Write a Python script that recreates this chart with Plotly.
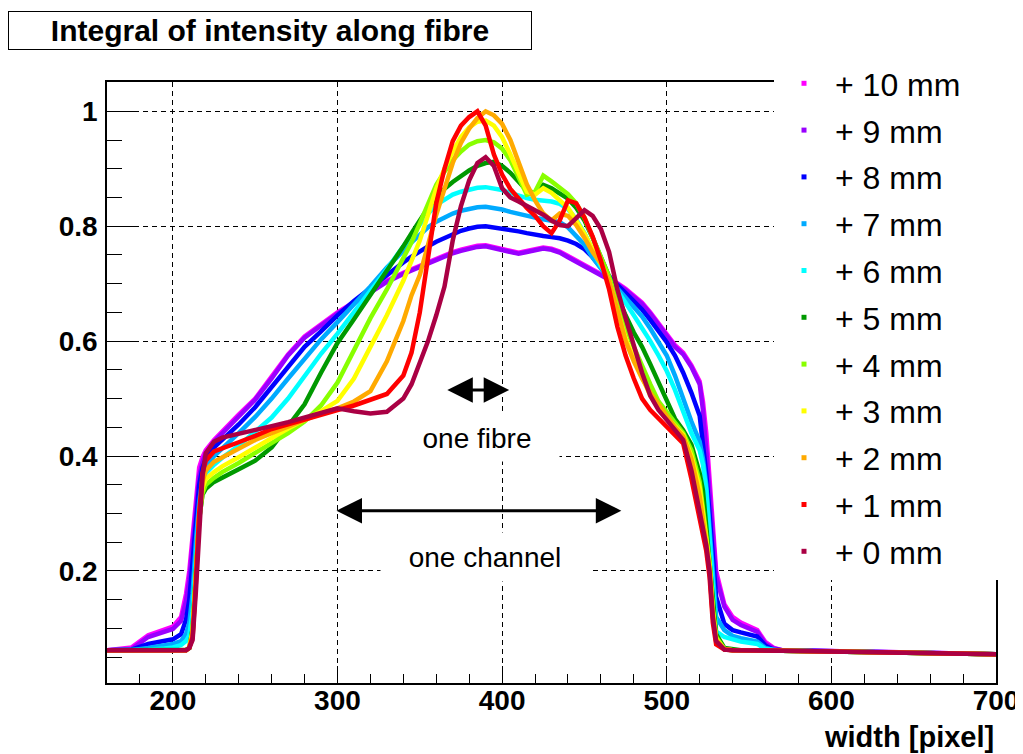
import plotly.graph_objects as go

# common x grid (pixel position along the fibre)
x_px = [160, 175, 185, 195, 200, 205, 208, 210, 212, 214, 216, 218, 220,
        225, 230, 240, 250, 260, 270, 280, 290, 300, 310, 320, 330, 340,
        345, 350, 355, 360, 365, 370, 375, 380, 385, 390, 395, 400, 405, 410,
        415, 420, 425, 430, 435, 440, 445, 450, 455, 460, 465, 470, 475, 480,
        485, 490, 495, 500, 505, 510, 515,
        520, 522, 524, 526, 528, 530,
        535, 540, 545, 550, 555, 560, 565, 570,
        600, 650, 700]

mm10 = [0.062, 0.067, 0.088, 0.097, 0.103, 0.12, 0.16, 0.2, 0.26, 0.33, 0.38, 0.398, 0.41,
        0.428, 0.443, 0.472, 0.5, 0.537, 0.577, 0.608, 0.63, 0.65, 0.668, 0.687, 0.705, 0.719,
        0.725, 0.731, 0.738, 0.744, 0.75, 0.755, 0.759, 0.763, 0.766, 0.767, 0.764, 0.761, 0.757, 0.754,
        0.757, 0.76, 0.763, 0.761, 0.756, 0.748, 0.74, 0.733, 0.726, 0.717, 0.71, 0.701, 0.691, 0.68,
        0.667, 0.65, 0.63, 0.61, 0.593, 0.58, 0.558,
        0.53, 0.495, 0.44, 0.36, 0.28, 0.2,
        0.142, 0.12, 0.11, 0.103, 0.097, 0.076, 0.066, 0.062,
        0.061, 0.058, 0.055]
mm9 = [0.062, 0.064, 0.085, 0.093, 0.099, 0.113, 0.148, 0.185, 0.24, 0.31, 0.365, 0.39, 0.405,
       0.425, 0.44, 0.47, 0.498, 0.535, 0.575, 0.606, 0.628, 0.648, 0.666, 0.685, 0.703, 0.717,
       0.723, 0.729, 0.736, 0.742, 0.748, 0.753, 0.757, 0.761, 0.764, 0.765, 0.762, 0.759, 0.755, 0.752,
       0.755, 0.758, 0.761, 0.759, 0.754, 0.746, 0.738, 0.731, 0.724, 0.715, 0.708, 0.699, 0.689, 0.678,
       0.665, 0.648, 0.628, 0.607, 0.59, 0.577, 0.555,
       0.525, 0.48, 0.41, 0.34, 0.26, 0.19,
       0.138, 0.115, 0.106, 0.1, 0.094, 0.073, 0.065, 0.062,
       0.061, 0.058, 0.055]
mm8 = [0.062, 0.063, 0.073, 0.078, 0.081, 0.09, 0.115, 0.15, 0.21, 0.29, 0.35, 0.38, 0.395,
       0.415, 0.428, 0.455, 0.485, 0.52, 0.556, 0.59, 0.617, 0.645, 0.67, 0.693, 0.715, 0.737,
       0.747, 0.757, 0.765, 0.773, 0.78, 0.786, 0.792, 0.796, 0.799, 0.8, 0.798, 0.796, 0.794, 0.791,
       0.788, 0.785, 0.783, 0.781, 0.779, 0.775, 0.769, 0.76, 0.746, 0.728, 0.712, 0.698, 0.684, 0.67,
       0.655, 0.637, 0.618, 0.598, 0.575, 0.545, 0.51,
       0.47, 0.42, 0.37, 0.3, 0.225, 0.155,
       0.108, 0.097, 0.093, 0.09, 0.086, 0.07, 0.063, 0.062,
       0.06, 0.058, 0.055]
mm7 = [0.062, 0.062, 0.066, 0.07, 0.073, 0.078, 0.09, 0.11, 0.16, 0.25, 0.32, 0.36, 0.38,
       0.4, 0.413, 0.44, 0.468, 0.5, 0.535, 0.57, 0.603, 0.633, 0.663, 0.695, 0.728, 0.758,
       0.772, 0.785, 0.798, 0.808, 0.816, 0.822, 0.827, 0.831, 0.833, 0.834, 0.832, 0.829, 0.825, 0.821,
       0.817, 0.815, 0.812, 0.81, 0.807, 0.798, 0.784, 0.768, 0.745, 0.725, 0.708, 0.692, 0.676, 0.66,
       0.643, 0.622, 0.6, 0.575, 0.54, 0.497, 0.46,
       0.425, 0.395, 0.35, 0.28, 0.19, 0.12,
       0.097, 0.087, 0.083, 0.08, 0.077, 0.066, 0.062, 0.061,
       0.06, 0.058, 0.055]
mm6 = [0.062, 0.062, 0.063, 0.065, 0.067, 0.071, 0.078, 0.088, 0.13, 0.22, 0.3, 0.35, 0.37,
       0.385, 0.397, 0.418, 0.442, 0.467, 0.5, 0.54, 0.578, 0.613, 0.65, 0.685, 0.725, 0.765,
       0.785, 0.805, 0.822, 0.837, 0.847, 0.855, 0.86, 0.864, 0.867, 0.868, 0.866, 0.863, 0.858, 0.853,
       0.849, 0.846, 0.845, 0.843, 0.839, 0.83, 0.812, 0.788, 0.758, 0.73, 0.71, 0.69, 0.667, 0.645,
       0.623, 0.6, 0.575, 0.548, 0.515, 0.478, 0.44,
       0.41, 0.385, 0.34, 0.26, 0.16, 0.095,
       0.085, 0.08, 0.077, 0.075, 0.073, 0.064, 0.062, 0.061,
       0.06, 0.058, 0.055]
mm5 = [0.062, 0.062, 0.062, 0.062, 0.062, 0.062, 0.063, 0.066, 0.1, 0.2, 0.29, 0.333, 0.343,
       0.355, 0.363, 0.377, 0.392, 0.415, 0.452, 0.49, 0.545, 0.597, 0.638, 0.68, 0.72, 0.765,
       0.788, 0.81, 0.832, 0.85, 0.865, 0.877, 0.888, 0.897, 0.905, 0.91, 0.912, 0.905, 0.893, 0.878,
       0.862, 0.858, 0.872, 0.866, 0.858, 0.848, 0.832, 0.81, 0.78, 0.745, 0.715, 0.68, 0.645, 0.615,
       0.59, 0.56, 0.53, 0.497, 0.465, 0.445, 0.42,
       0.37, 0.34, 0.28, 0.22, 0.14, 0.09,
       0.066, 0.063, 0.062, 0.062, 0.062, 0.062, 0.062, 0.061,
       0.06, 0.058, 0.055]
mm4 = [0.062, 0.062, 0.062, 0.062, 0.062, 0.062, 0.062, 0.066, 0.095, 0.19, 0.29, 0.335, 0.35,
       0.362, 0.372, 0.388, 0.405, 0.423, 0.44, 0.46, 0.488, 0.528, 0.585, 0.64, 0.69, 0.742,
       0.772, 0.805, 0.84, 0.872, 0.895, 0.915, 0.93, 0.942, 0.948, 0.95, 0.946, 0.935, 0.915, 0.885,
       0.855, 0.86, 0.888, 0.878, 0.866, 0.856, 0.84, 0.815, 0.78, 0.745, 0.712, 0.67, 0.625, 0.59,
       0.555, 0.525, 0.495, 0.475, 0.458, 0.44, 0.41,
       0.355, 0.31, 0.265, 0.215, 0.135, 0.085,
       0.064, 0.062, 0.062, 0.062, 0.062, 0.062, 0.062, 0.061,
       0.06, 0.058, 0.055]
mm3 = [0.062, 0.062, 0.062, 0.062, 0.062, 0.062, 0.062, 0.066, 0.095, 0.19, 0.295, 0.345, 0.36,
       0.372, 0.382, 0.398, 0.415, 0.433, 0.448, 0.463, 0.478, 0.496, 0.535, 0.59, 0.645, 0.705,
       0.74, 0.775, 0.82, 0.865, 0.9, 0.93, 0.955, 0.972, 0.982, 0.984, 0.975, 0.955, 0.925, 0.89,
       0.86, 0.855, 0.866, 0.858, 0.846, 0.832, 0.81, 0.787, 0.76, 0.735, 0.705, 0.655, 0.605, 0.57,
       0.535, 0.505, 0.485, 0.467, 0.452, 0.437, 0.4,
       0.345, 0.3, 0.26, 0.21, 0.13, 0.082,
       0.064, 0.062, 0.062, 0.062, 0.062, 0.062, 0.062, 0.061,
       0.06, 0.058, 0.055]
mm2 = [0.062, 0.062, 0.062, 0.062, 0.062, 0.062, 0.062, 0.066, 0.09, 0.19, 0.3, 0.355, 0.375,
       0.39, 0.398, 0.413, 0.428, 0.44, 0.452, 0.464, 0.474, 0.483, 0.495, 0.513, 0.565, 0.635,
       0.68, 0.715, 0.77, 0.82, 0.865, 0.91, 0.945, 0.97, 0.988, 1.0, 0.993, 0.978, 0.95, 0.913,
       0.873, 0.845, 0.822, 0.81, 0.822, 0.818, 0.802, 0.78, 0.755, 0.735, 0.705, 0.655, 0.6, 0.565,
       0.535, 0.51, 0.49, 0.47, 0.45, 0.434, 0.395,
       0.33, 0.29, 0.255, 0.205, 0.125, 0.08,
       0.064, 0.062, 0.062, 0.062, 0.062, 0.062, 0.062, 0.061,
       0.06, 0.058, 0.055]
mm1 = [0.062, 0.062, 0.062, 0.062, 0.062, 0.062, 0.062, 0.066, 0.085, 0.18, 0.3, 0.37, 0.392,
       0.408, 0.414, 0.424, 0.435, 0.447, 0.455, 0.464, 0.472, 0.48, 0.488, 0.497, 0.508, 0.54,
       0.58, 0.65, 0.75, 0.84, 0.9, 0.948, 0.975, 0.99, 1.0, 0.975, 0.925, 0.89, 0.865, 0.848,
       0.832, 0.818, 0.8, 0.788, 0.81, 0.845, 0.84, 0.815, 0.782, 0.74, 0.69, 0.625, 0.575, 0.535,
       0.5, 0.48, 0.465, 0.45, 0.435, 0.422, 0.36,
       0.29, 0.265, 0.235, 0.19, 0.11, 0.072,
       0.063, 0.062, 0.062, 0.062, 0.062, 0.062, 0.062, 0.061,
       0.06, 0.058, 0.055]
mm0 = [0.062, 0.062, 0.062, 0.062, 0.062, 0.062, 0.062, 0.066, 0.08, 0.165, 0.28, 0.365, 0.405,
       0.425, 0.432, 0.438, 0.445, 0.452, 0.459, 0.467, 0.475, 0.483, 0.478, 0.474, 0.477, 0.5,
       0.525, 0.56, 0.6, 0.645, 0.695, 0.775, 0.835, 0.88, 0.91, 0.92, 0.905, 0.866, 0.85, 0.843,
       0.836, 0.829, 0.82, 0.81, 0.802, 0.8, 0.815, 0.828, 0.818, 0.795, 0.755, 0.69, 0.64, 0.59,
       0.545, 0.505, 0.48, 0.463, 0.445, 0.428, 0.375,
       0.305, 0.275, 0.245, 0.2, 0.12, 0.078,
       0.063, 0.062, 0.062, 0.062, 0.062, 0.062, 0.062, 0.061,
       0.06, 0.058, 0.055]

series_names = ["+ 10 mm", "+ 9 mm", "+ 8 mm", "+ 7 mm", "+ 6 mm", "+ 5 mm",
                "+ 4 mm", "+ 3 mm", "+ 2 mm", "+ 1 mm", "+ 0 mm"]
series_values = [mm10, mm9, mm8, mm7, mm6, mm5, mm4, mm3, mm2, mm1, mm0]
series_colors = ["#ff00ff", "#9900ff", "#0000ff", "#00aaff", "#00ffff", "#009900",
                 "#88ff00", "#ffff00", "#ffaa00", "#ff0000", "#aa0044"]

x_ticks = [200, 300, 400, 500, 600, 700]
x_ticktext = ["200", "300", "400", "500", "600", "700"]
y_ticks = [0.2, 0.4, 0.6, 0.8, 1.0]
y_ticktext = ["0.2", "0.4", "0.6", "0.8", "1"]

FONT = "Liberation Sans, Arial, Helvetica, sans-serif"

fig = go.Figure()
for name, vals, col in zip(series_names, series_values, series_colors):
    fig.add_trace(go.Scatter(x=x_px, y=vals, mode="lines",
                             line=dict(color=col, width=4.5),
                             showlegend=False, hoverinfo="skip"))
for name, col in zip(series_names, series_colors):
    fig.add_trace(go.Scatter(x=[None], y=[None], mode="markers", name=name,
                             legendgroup=name,
                             marker=dict(symbol="square", size=5, color=col,
                                         line=dict(width=0))))

# the page body adds an 8px offset; layout below is given in window pixels
OFF = 8
W, H = 1015, 746
L, R, T, B = 99, 27, 74, 71
pw, ph = W - L - R, H - T - B

def px(xs):
    return (xs - OFF - L) / pw

def py(ys):
    return (H - B - (ys - OFF)) / ph

axis_common = dict(showline=True, linecolor="black", linewidth=1.5, mirror=True,
                   ticks="inside", tickcolor="black", tickwidth=1,
                   showgrid=True, gridcolor="black", gridwidth=1, griddash="5px,4px",
                   zeroline=False, automargin=False,
                   tickfont=dict(family=FONT, size=28, color="black", weight="bold"))

fig.update_xaxes(range=[160, 700], tickmode="array", tickvals=x_ticks, ticktext=x_ticktext,
                 ticklen=17, ticklabelstandoff=-8,
                 minor=dict(tickmode="linear", tick0=0, dtick=20, ticks="inside",
                            ticklen=9, tickcolor="black", showgrid=False),
                 **axis_common)
fig.update_yaxes(range=[0.005, 1.051], tickmode="array", tickvals=y_ticks, ticktext=y_ticktext,
                 ticklen=30, ticklabelstandoff=2,
                 minor=dict(tickmode="linear", tick0=0, dtick=0.05, ticks="inside",
                            ticklen=15, tickcolor="black", showgrid=False),
                 **axis_common)

annotations = [
    dict(text="Integral of intensity along fibre", xref="paper", yref="paper",
         x=px(270), y=py(30), xanchor="center", yanchor="middle", showarrow=False,
         font=dict(family=FONT, size=30, color="black", weight="bold"),
         bordercolor="black", borderwidth=1, bgcolor="white", width=520, height=35),
    dict(text="width [pixel]", xref="paper", yref="paper", x=1.0, y=py(737),
         xanchor="right", yanchor="middle", showarrow=False,
         font=dict(family=FONT, size=29, color="black", weight="bold")),
    dict(text="one fibre", xref="x", yref="y", x=385, y=0.432, xanchor="center",
         yanchor="middle", showarrow=False, bgcolor="white", width=162, height=44,
         font=dict(family=FONT, size=28, color="black")),
    dict(text="one channel", xref="x", yref="y", x=389.5, y=0.2235, xanchor="center",
         yanchor="middle", showarrow=False, bgcolor="white", width=206, height=46,
         font=dict(family=FONT, size=28, color="black")),
    dict(text="", xref="x", yref="y", x=404.3, y=0.515, axref="x", ayref="y",
         ax=365.8, ay=0.515, showarrow=True, arrowside="end+start", arrowhead=2,
         arrowsize=1.7, arrowwidth=3, arrowcolor="black", standoff=0, startstandoff=0),
    dict(text="", xref="x", yref="y", x=472.4, y=0.305, axref="x", ayref="y",
         ax=298.5, ay=0.305, showarrow=True, arrowside="end+start", arrowhead=2,
         arrowsize=1.7, arrowwidth=3, arrowcolor="black", standoff=0, startstandoff=0),
]

shapes = [
    dict(type="rect", xref="paper", yref="paper", x0=px(774), x1=px(1040),
         y0=py(580), y1=py(50), fillcolor="white", line=dict(width=0), layer="above"),
]

fig.update_layout(
    width=W, height=H, margin=dict(l=L, r=R, t=T, b=B, autoexpand=False),
    paper_bgcolor="white", plot_bgcolor="white",
    font=dict(family=FONT, color="black"),
    annotations=annotations, shapes=shapes,
    legend=dict(x=px(773), y=py(56), xanchor="left", yanchor="top",
                bgcolor="rgba(0,0,0,0)", borderwidth=0, tracegroupgap=2.2,
                itemwidth=52, maxheight=700,
                font=dict(family=FONT, size=32, color="black")),
)

fig.write_html("out.html")
